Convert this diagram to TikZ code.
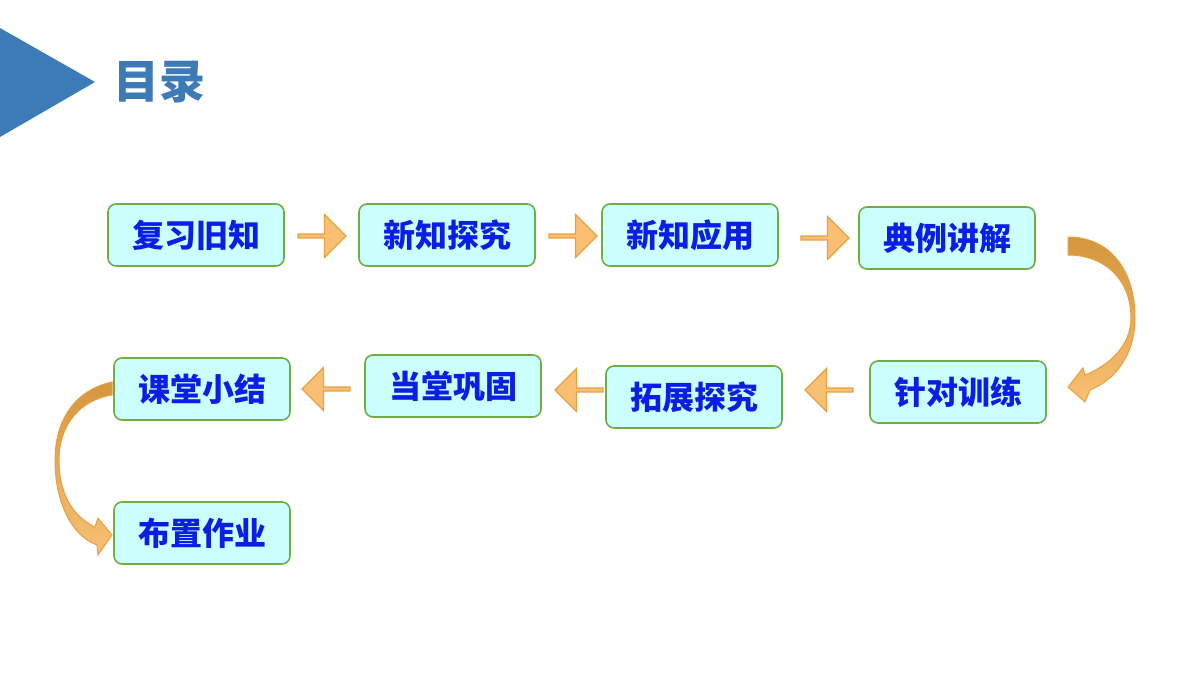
\documentclass[tikz,border=0pt]{standalone}
\usepackage{fontspec}
\setmainfont{Noto Sans CJK SC}
\usetikzlibrary{shapes.arrows}
\definecolor{boxfill}{HTML}{CCFFFF}
\definecolor{boxline}{HTML}{70AD47}
\definecolor{txtblue}{HTML}{0A1EE6}
\definecolor{titleblue}{HTML}{3D7AB8}
\definecolor{arrfill}{HTML}{F9C074}
\definecolor{arrline}{HTML}{E8A040}
\definecolor{arrdark}{HTML}{D4963E}
\tikzset{
  stagebox/.style={draw=boxline, line width=0.8pt, fill=boxfill, rounded corners=4pt,
    minimum width=88pt, minimum height=31pt, inner sep=0pt,
    font=\fontsize{16pt}{16pt}\selectfont\bfseries, text=txtblue},
  blk/.style={single arrow, draw=arrline, fill=arrfill, line width=0.6pt,
    minimum width=21.5pt, minimum height=24pt, single arrow head extend=3pt,
    single arrow tip angle=90, inner sep=0pt},
  blkleft/.style={blk, shape border rotate=180},
  curvearr/.style={draw=arrline, line width=0.5pt, top color=arrdark, bottom color=arrfill}
}
\begin{document}
\begin{tikzpicture}[x=0.5pt, y=-0.5pt]
  \useasboundingbox (0,0) rectangle (1200,675);
  % title
  \fill[titleblue] (0,28) -- (95,82) -- (0,137) -- cycle;
  \node[anchor=west, text=titleblue, font=\fontsize{23pt}{23pt}\selectfont\bfseries] (title) at (106,82) {目录};
  % first row
  \node[stagebox] (s1) at (196,235) {复习旧知};
  \node[stagebox] (s2) at (447,235) {新知探究};
  \node[stagebox] (s3) at (690,235) {新知应用};
  \node[stagebox] (s4) at (947,238) {典例讲解};
  % second row
  \node[stagebox] (s5) at (958,392) {针对训练};
  \node[stagebox] (s6) at (694,397) {拓展探究};
  \node[stagebox] (s7) at (453,386) {当堂巩固};
  \node[stagebox] (s8) at (202,389) {课堂小结};
  % third row
  \node[stagebox] (s9) at (202,533) {布置作业};
  % block arrows
  \node[blk] (a1) at (321,236) {};
  \node[blk] (a2) at (572,236) {};
  \node[blk] (a3) at (824,238) {};
  \node[blkleft] (a5) at (830,390) {};
  \node[blkleft] (a6) at (580,390) {};
  \node[blkleft] (a7) at (327,389) {};
  % curved arrows
  \path[curvearr] (1068,237) .. controls (1110,237) and (1135,270) .. (1135,318)
    .. controls (1135,355) and (1115,380) .. (1090,390) -- (1085,402) -- (1068,387)
    -- (1083,368) -- (1085,375) .. controls (1110,365) and (1131,345) .. (1131,318)
    .. controls (1131,280) and (1105,255) .. (1068,255) -- cycle;
  \path[curvearr] (112,382) .. controls (75,390) and (55,420) .. (55,460)
    .. controls (55,500) and (70,535) .. (97,545) -- (98,555) -- (112,535)
    -- (98,518) -- (95,527) .. controls (70,515) and (59,490) .. (59,460)
    .. controls (59,425) and (80,400) .. (112,395) -- cycle;
\end{tikzpicture}
\end{document}
